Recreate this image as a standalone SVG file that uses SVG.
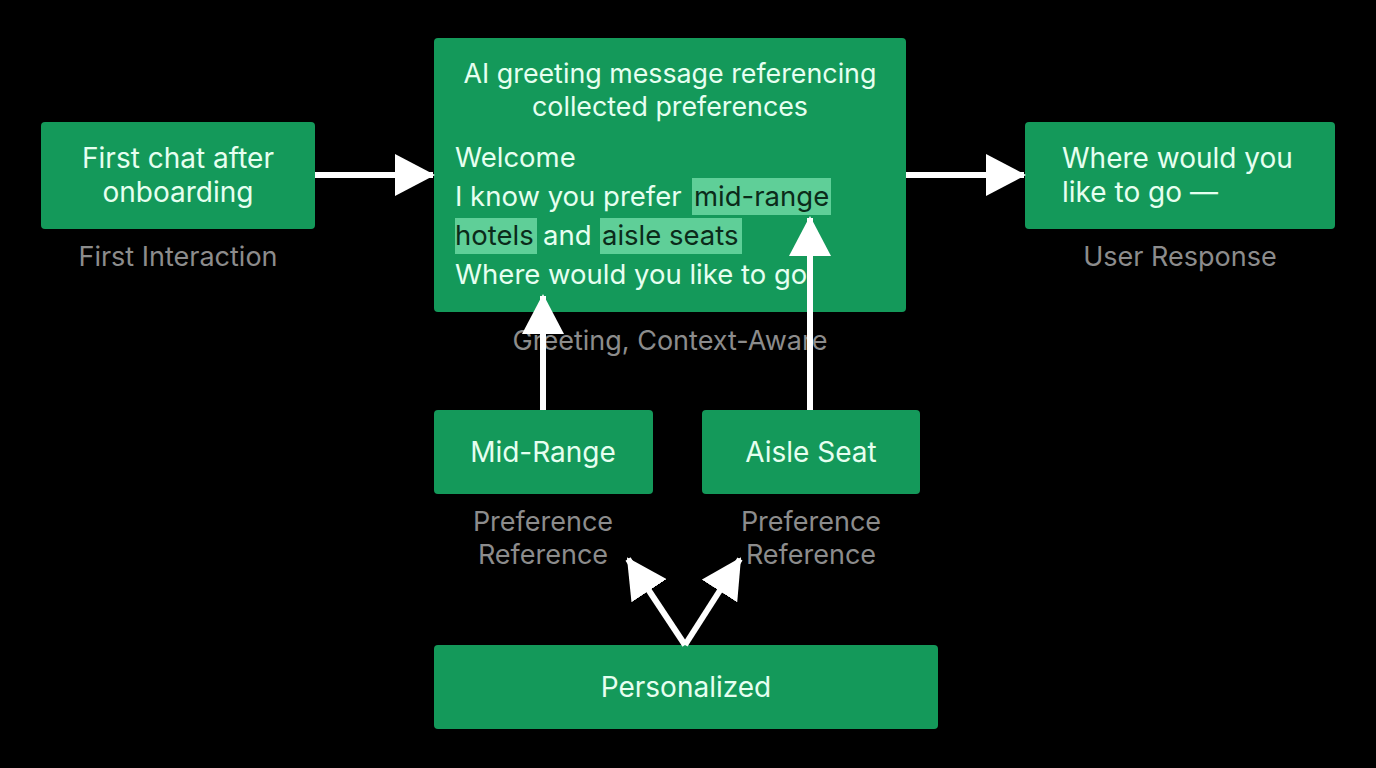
<svg xmlns="http://www.w3.org/2000/svg" width="1376" height="768" viewBox="0 0 1376 768">
<style>
.box{fill:#14995a}
.t{font-family:Inter,"Noto Sans",sans-serif;font-size:28px;fill:#e6fff0}
.b{font-size:27.5px}
.ti{font-size:26.8px}
.c{text-anchor:middle}
.lbl{font-family:Inter,"Noto Sans",sans-serif;font-size:27px;fill:#8c8c8c;text-anchor:middle}
.hl{fill:#5fcf98}
.dk{fill:#0b2b1a}
.ln{stroke:#fff;stroke-width:6;fill:none}
</style>
<defs>
<marker id="ah" markerUnits="userSpaceOnUse" markerWidth="40" markerHeight="42" refX="38" refY="21" orient="auto">
<path d="M0,0 L40,21 L0,42 Z" fill="#fff"/>
</marker>
</defs>
<rect width="1376" height="768" fill="#000"/>
<g id="n-first">
<rect class="box" x="41" y="122" width="274" height="107" rx="4"/>
<text class="t c" x="178" y="168">First chat after</text>
<text class="t c" x="178" y="202">onboarding</text>
<text class="lbl" x="178" y="266">First Interaction</text>
</g>
<g id="n-greeting">
<rect class="box" x="434" y="38" width="472" height="274" rx="4"/>
<text class="t ti c" x="670" y="83">AI greeting message referencing</text>
<text class="t ti c" x="670" y="116">collected preferences</text>
<rect class="hl" x="692" y="178" width="139" height="37"/>
<rect class="hl" x="455" y="218" width="82" height="36"/>
<rect class="hl" x="600" y="218" width="142" height="36"/>
<text class="t b" x="455" y="167">Welcome</text>
<text class="t b" x="455" y="206">I know you prefer</text>
<text class="t b dk" x="694" y="206">mid-range</text>
<text class="t b dk" x="455" y="245">hotels</text>
<text class="t b" x="543" y="245">and</text>
<text class="t b dk" x="602" y="245">aisle seats</text>
<text class="t b" x="455" y="284">Where would you like to go</text>
<text class="lbl" x="670" y="350">Greeting, Context-Aware</text>
</g>
<g id="n-response">
<rect class="box" x="1025" y="122" width="310" height="107" rx="4"/>
<text class="t" x="1062" y="168">Where would you</text>
<text class="t" x="1062" y="202">like to go —</text>
<text class="lbl" x="1180" y="266">User Response</text>
</g>
<g id="n-mid">
<rect class="box" x="434" y="410" width="219" height="84" rx="4"/>
<text class="t c" x="543" y="462">Mid-Range</text>
<text class="lbl" x="543" y="531">Preference</text>
<text class="lbl" x="543" y="564">Reference</text>
</g>
<g id="n-aisle">
<rect class="box" x="702" y="410" width="218" height="84" rx="4"/>
<text class="t c" x="811" y="462">Aisle Seat</text>
<text class="lbl" x="811" y="531">Preference</text>
<text class="lbl" x="811" y="564">Reference</text>
</g>
<g id="n-personalized">
<rect class="box" x="434" y="645" width="504" height="84" rx="4"/>
<text class="t c" x="686" y="697">Personalized</text>
</g>
<g id="connectors">
<line class="ln" x1="315" y1="175" x2="433" y2="175" marker-end="url(#ah)"/>
<line class="ln" x1="906" y1="175" x2="1024" y2="175" marker-end="url(#ah)"/>
<line class="ln" x1="543" y1="410" x2="543" y2="296" marker-end="url(#ah)"/>
<line class="ln" x1="810" y1="410" x2="810" y2="218" marker-end="url(#ah)"/>
<line class="ln" x1="685" y1="645" x2="628" y2="559" marker-end="url(#ah)"/>
<line class="ln" x1="685" y1="645" x2="740" y2="559" marker-end="url(#ah)"/>
</g>
</svg>
